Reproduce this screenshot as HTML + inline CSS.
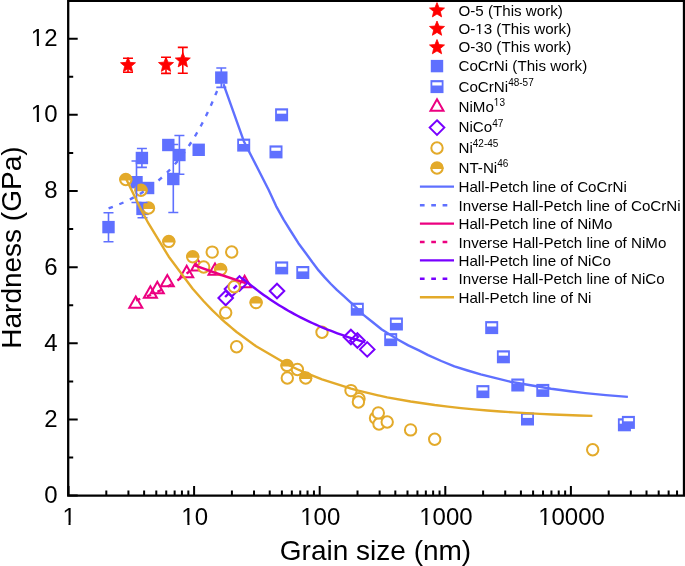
<!DOCTYPE html>
<html><head><meta charset="utf-8"><style>
html,body{margin:0;padding:0;background:#fff;}
svg{display:block;will-change:transform;}
text{font-family:"Liberation Sans",sans-serif;fill:#000;}
</style></head><body>
<svg width="685" height="566" viewBox="0 0 685 566">
<rect width="685" height="566" fill="#fff"/>
<path d="M128.00,58.20V72.20M123.00,58.20H133.00M123.00,72.20H133.00" stroke="#FF0000" stroke-width="1.6" fill="none"/>
<polygon points="128.00,57.30 130.06,62.37 135.51,62.76 131.33,66.28 132.64,71.59 128.00,68.70 123.36,71.59 124.67,66.28 120.49,62.76 125.94,62.37" fill="#FF0000" stroke="#FF0000" stroke-width="0.8" stroke-linejoin="round"/>
<path d="M166.00,57.30V73.40M161.00,57.30H171.00M161.00,73.40H171.00" stroke="#FF0000" stroke-width="1.6" fill="none"/>
<polygon points="166.00,57.10 168.06,62.17 173.51,62.56 169.33,66.08 170.64,71.39 166.00,68.50 161.36,71.39 162.67,66.08 158.49,62.56 163.94,62.17" fill="#FF0000" stroke="#FF0000" stroke-width="0.8" stroke-linejoin="round"/>
<path d="M182.80,47.40V73.20M177.80,47.40H187.80M177.80,73.20H187.80" stroke="#FF0000" stroke-width="1.6" fill="none"/>
<polygon points="182.80,52.60 184.86,57.67 190.31,58.06 186.13,61.58 187.44,66.89 182.80,64.00 178.16,66.89 179.47,61.58 175.29,58.06 180.74,57.67" fill="#FF0000" stroke="#FF0000" stroke-width="0.8" stroke-linejoin="round"/>
<rect x="102.30" y="220.90" width="12.4" height="12.4" fill="#5F70FF"/>
<rect x="135.70" y="151.80" width="12.4" height="12.4" fill="#5F70FF"/>
<rect x="130.30" y="176.00" width="12.4" height="12.4" fill="#5F70FF"/>
<rect x="141.90" y="181.80" width="12.4" height="12.4" fill="#5F70FF"/>
<rect x="136.30" y="202.70" width="12.4" height="12.4" fill="#5F70FF"/>
<rect x="173.20" y="148.80" width="12.4" height="12.4" fill="#5F70FF"/>
<rect x="167.10" y="172.80" width="12.4" height="12.4" fill="#5F70FF"/>
<rect x="215.10" y="71.40" width="12.4" height="12.4" fill="#5F70FF"/>
<g>
<rect x="237.20" y="138.60" width="13.0" height="13.0" fill="#5F70FF"/>
<rect x="239.00" y="140.80" width="9.40" height="3.2" fill="#fff"/>
<rect x="275.10" y="108.30" width="13.0" height="13.0" fill="#5F70FF"/>
<rect x="276.90" y="110.50" width="9.40" height="3.2" fill="#fff"/>
<rect x="269.50" y="145.40" width="13.0" height="13.0" fill="#5F70FF"/>
<rect x="271.30" y="147.60" width="9.40" height="3.2" fill="#fff"/>
<rect x="275.20" y="261.40" width="13.0" height="13.0" fill="#5F70FF"/>
<rect x="277.00" y="263.60" width="9.40" height="3.2" fill="#fff"/>
<rect x="296.30" y="266.00" width="13.0" height="13.0" fill="#5F70FF"/>
<rect x="298.10" y="268.20" width="9.40" height="3.2" fill="#fff"/>
<rect x="350.80" y="302.70" width="13.0" height="13.0" fill="#5F70FF"/>
<rect x="352.60" y="304.90" width="9.40" height="3.2" fill="#fff"/>
<rect x="389.90" y="317.50" width="13.0" height="13.0" fill="#5F70FF"/>
<rect x="391.70" y="319.70" width="9.40" height="3.2" fill="#fff"/>
<rect x="384.20" y="333.10" width="13.0" height="13.0" fill="#5F70FF"/>
<rect x="386.00" y="335.30" width="9.40" height="3.2" fill="#fff"/>
<rect x="485.20" y="321.10" width="13.0" height="13.0" fill="#5F70FF"/>
<rect x="487.00" y="323.30" width="9.40" height="3.2" fill="#fff"/>
<rect x="496.90" y="350.30" width="13.0" height="13.0" fill="#5F70FF"/>
<rect x="498.70" y="352.50" width="9.40" height="3.2" fill="#fff"/>
<rect x="476.40" y="385.10" width="13.0" height="13.0" fill="#5F70FF"/>
<rect x="478.20" y="387.30" width="9.40" height="3.2" fill="#fff"/>
<rect x="511.30" y="378.50" width="13.0" height="13.0" fill="#5F70FF"/>
<rect x="513.10" y="380.70" width="9.40" height="3.2" fill="#fff"/>
<rect x="536.30" y="383.90" width="13.0" height="13.0" fill="#5F70FF"/>
<rect x="538.10" y="386.10" width="9.40" height="3.2" fill="#fff"/>
<rect x="521.00" y="412.50" width="13.0" height="13.0" fill="#5F70FF"/>
<rect x="522.80" y="414.70" width="9.40" height="3.2" fill="#fff"/>
<rect x="617.90" y="418.30" width="13.0" height="13.0" fill="#5F70FF"/>
<rect x="619.70" y="420.50" width="9.40" height="3.2" fill="#fff"/>
<rect x="621.90" y="415.90" width="13.0" height="13.0" fill="#5F70FF"/>
<rect x="623.70" y="418.10" width="9.40" height="3.2" fill="#fff"/>
</g>
<polygon points="135.80,296.47 142.30,307.73 129.30,307.73" fill="none" stroke="#EC0080" stroke-width="2"/>
<polygon points="150.40,286.37 156.90,297.63 143.90,297.63" fill="none" stroke="#EC0080" stroke-width="2"/>
<polygon points="157.30,281.87 163.80,293.13 150.80,293.13" fill="none" stroke="#EC0080" stroke-width="2"/>
<polygon points="167.30,275.07 173.80,286.33 160.80,286.33" fill="none" stroke="#EC0080" stroke-width="2"/>
<polygon points="186.70,265.87 193.20,277.13 180.20,277.13" fill="none" stroke="#EC0080" stroke-width="2"/>
<polygon points="197.70,259.17 204.20,270.43 191.20,270.43" fill="none" stroke="#EC0080" stroke-width="2"/>
<polygon points="215.00,263.47 221.50,274.73 208.50,274.73" fill="none" stroke="#EC0080" stroke-width="2"/>
<polygon points="244.60,275.87 251.10,287.13 238.10,287.13" fill="none" stroke="#EC0080" stroke-width="2"/>
<polygon points="350.90,329.70 358.20,337.00 350.90,344.30 343.60,337.00" fill="none" stroke="#7800FF" stroke-width="2"/>
<polygon points="357.40,333.20 364.70,340.50 357.40,347.80 350.10,340.50" fill="none" stroke="#7800FF" stroke-width="2"/>
<polygon points="367.20,342.10 374.50,349.40 367.20,356.70 359.90,349.40" fill="none" stroke="#7800FF" stroke-width="2"/>
<polygon points="239.50,276.20 246.80,283.50 239.50,290.80 232.20,283.50" fill="none" stroke="#7800FF" stroke-width="2"/>
<polygon points="232.00,281.70 239.30,289.00 232.00,296.30 224.70,289.00" fill="none" stroke="#7800FF" stroke-width="2"/>
<polygon points="225.70,290.70 233.00,298.00 225.70,305.30 218.40,298.00" fill="none" stroke="#7800FF" stroke-width="2"/>
<polygon points="277.00,283.70 284.30,291.00 277.00,298.30 269.70,291.00" fill="none" stroke="#7800FF" stroke-width="2"/>
<circle cx="212.20" cy="252.10" r="5.7" fill="#fff" stroke="#E3AA2A" stroke-width="2"/>
<circle cx="231.70" cy="252.00" r="5.7" fill="#fff" stroke="#E3AA2A" stroke-width="2"/>
<circle cx="203.70" cy="267.00" r="5.7" fill="#fff" stroke="#E3AA2A" stroke-width="2"/>
<circle cx="234.20" cy="286.80" r="5.7" fill="#fff" stroke="#E3AA2A" stroke-width="2"/>
<circle cx="225.70" cy="312.70" r="5.7" fill="#fff" stroke="#E3AA2A" stroke-width="2"/>
<circle cx="236.60" cy="346.80" r="5.7" fill="#fff" stroke="#E3AA2A" stroke-width="2"/>
<circle cx="322.00" cy="332.20" r="5.7" fill="#fff" stroke="#E3AA2A" stroke-width="2"/>
<circle cx="297.40" cy="369.50" r="5.7" fill="#fff" stroke="#E3AA2A" stroke-width="2"/>
<circle cx="287.30" cy="378.00" r="5.7" fill="#fff" stroke="#E3AA2A" stroke-width="2"/>
<circle cx="359.00" cy="398.70" r="5.7" fill="#fff" stroke="#E3AA2A" stroke-width="2"/>
<circle cx="351.00" cy="390.60" r="5.7" fill="#fff" stroke="#E3AA2A" stroke-width="2"/>
<circle cx="358.40" cy="402.00" r="5.7" fill="#fff" stroke="#E3AA2A" stroke-width="2"/>
<circle cx="375.50" cy="418.00" r="5.7" fill="#fff" stroke="#E3AA2A" stroke-width="2"/>
<circle cx="379.00" cy="424.00" r="5.7" fill="#fff" stroke="#E3AA2A" stroke-width="2"/>
<circle cx="378.30" cy="412.90" r="5.7" fill="#fff" stroke="#E3AA2A" stroke-width="2"/>
<circle cx="387.20" cy="422.00" r="5.7" fill="#fff" stroke="#E3AA2A" stroke-width="2"/>
<circle cx="410.60" cy="429.90" r="5.7" fill="#fff" stroke="#E3AA2A" stroke-width="2"/>
<circle cx="434.70" cy="439.20" r="5.7" fill="#fff" stroke="#E3AA2A" stroke-width="2"/>
<circle cx="592.70" cy="449.80" r="5.7" fill="#fff" stroke="#E3AA2A" stroke-width="2"/>
<circle cx="125.80" cy="179.50" r="5.7" fill="#fff" stroke="#E3AA2A" stroke-width="2"/>
<path d="M119.10,180.50 A6.7,6.7 0 0 1 132.50,180.50 Z" fill="#E3AA2A"/>
<circle cx="141.00" cy="190.20" r="5.7" fill="#fff" stroke="#E3AA2A" stroke-width="2"/>
<path d="M134.30,191.20 A6.7,6.7 0 0 1 147.70,191.20 Z" fill="#E3AA2A"/>
<circle cx="148.50" cy="208.00" r="5.7" fill="#fff" stroke="#E3AA2A" stroke-width="2"/>
<path d="M141.80,209.00 A6.7,6.7 0 0 1 155.20,209.00 Z" fill="#E3AA2A"/>
<circle cx="168.80" cy="241.40" r="5.7" fill="#fff" stroke="#E3AA2A" stroke-width="2"/>
<path d="M162.10,242.40 A6.7,6.7 0 0 1 175.50,242.40 Z" fill="#E3AA2A"/>
<circle cx="192.70" cy="256.70" r="5.7" fill="#fff" stroke="#E3AA2A" stroke-width="2"/>
<path d="M186.00,257.70 A6.7,6.7 0 0 1 199.40,257.70 Z" fill="#E3AA2A"/>
<circle cx="220.70" cy="269.50" r="5.7" fill="#fff" stroke="#E3AA2A" stroke-width="2"/>
<path d="M214.00,270.50 A6.7,6.7 0 0 1 227.40,270.50 Z" fill="#E3AA2A"/>
<circle cx="256.10" cy="302.60" r="5.7" fill="#fff" stroke="#E3AA2A" stroke-width="2"/>
<path d="M249.40,303.60 A6.7,6.7 0 0 1 262.80,303.60 Z" fill="#E3AA2A"/>
<circle cx="287.00" cy="365.40" r="5.7" fill="#fff" stroke="#E3AA2A" stroke-width="2"/>
<path d="M280.30,366.40 A6.7,6.7 0 0 1 293.70,366.40 Z" fill="#E3AA2A"/>
<circle cx="305.70" cy="378.00" r="5.7" fill="#fff" stroke="#E3AA2A" stroke-width="2"/>
<path d="M299.00,379.00 A6.7,6.7 0 0 1 312.40,379.00 Z" fill="#E3AA2A"/>
<path d="M108.50,212.80V241.70M103.50,212.80H113.50M103.50,241.70H113.50" stroke="#5F70FF" stroke-width="1.6" fill="none"/>
<path d="M141.90,148.50V167.40M136.90,148.50H146.90M136.90,167.40H146.90" stroke="#5F70FF" stroke-width="1.6" fill="none"/>
<path d="M136.50,161.00V202.50M131.50,161.00H141.50M131.50,202.50H141.50" stroke="#5F70FF" stroke-width="1.6" fill="none"/>
<path d="M142.50,202.50V217.80M137.50,202.50H147.50M137.50,217.80H147.50" stroke="#5F70FF" stroke-width="1.6" fill="none"/>
<path d="M179.40,135.50V174.30M174.40,135.50H184.40M174.40,174.30H184.40" stroke="#5F70FF" stroke-width="1.6" fill="none"/>
<path d="M173.30,144.50V212.50M168.30,144.50H178.30M168.30,212.50H178.30" stroke="#5F70FF" stroke-width="1.6" fill="none"/>
<path d="M221.30,68.00V87.40M216.30,68.00H226.30M216.30,87.40H226.30" stroke="#5F70FF" stroke-width="1.6" fill="none"/>
<rect x="162.10" y="138.80" width="12.4" height="12.4" fill="#5F70FF"/>
<rect x="192.50" y="143.60" width="12.4" height="12.4" fill="#5F70FF"/>
<path d="M223.50,84.20 L243.80,141.20 L268.70,190.00 L276.10,206.10 L283.60,219.70 L291.00,231.50 L298.40,243.20 L306.20,253.70 L312.40,262.30 L318.60,270.40 L324.70,277.40 L330.90,284.00 L337.10,290.20 L343.30,295.70 L349.50,301.30 L353.20,304.60 L363.80,315.10 L371.20,321.00 L381.80,329.50 L397.70,339.50 L408.30,345.40 L418.90,350.40 L428.10,355.10 L441.30,361.00 L454.40,366.30 L467.60,370.50 L480.70,374.40 L493.80,377.70 L510.20,381.70 L530.60,385.30 L551.10,388.70 L570.00,391.30 L585.40,393.10 L605.90,395.10 L627.90,396.90" fill="none" stroke="#5F70FF" stroke-width="2.4" stroke-linejoin="round"/>
<path d="M108.60,208.36 L116.73,205.36 L123.81,202.37 L130.07,199.37 L135.69,196.38 L140.78,193.39 L145.43,190.39 L149.73,187.40 L153.70,184.40 L157.41,181.41 L160.88,178.41 L164.14,175.42 L167.22,172.43 L170.14,169.43 L172.90,166.44 L175.54,163.44 L178.05,160.45 L180.45,157.46 L182.75,154.46 L184.96,151.47 L187.08,148.47 L189.12,145.48 L191.09,142.48 L192.99,139.49 L194.82,136.50 L196.60,133.50 L198.32,130.51 L199.99,127.51 L201.60,124.52 L203.17,121.53 L204.70,118.53 L206.19,115.54 L207.63,112.54 L209.04,109.55 L210.42,106.56 L211.75,103.56 L213.06,100.57 L214.34,97.57 L215.59,94.58 L216.81,91.58 L218.00,88.59" fill="none" stroke="#5F70FF" stroke-width="2.4" stroke-linejoin="round" stroke-dasharray="4.5 7"/>
<path d="M194.60,265.30 L220.00,274.50 L245.70,283.20" fill="none" stroke="#EC0080" stroke-width="2.4" stroke-linejoin="round"/>
<path d="M136.00,300.26 L138.78,299.35 L141.42,298.44 L143.94,297.53 L146.34,296.62 L148.65,295.71 L150.86,294.80 L152.99,293.89 L155.03,292.98 L157.01,292.07 L158.91,291.16 L160.75,290.25 L162.53,289.34 L164.25,288.43 L165.92,287.52 L167.54,286.61 L169.12,285.70 L170.65,284.79 L172.13,283.88 L173.58,282.97 L174.99,282.06 L176.37,281.15 L177.71,280.24 L179.02,279.33 L180.30,278.42 L181.55,277.51 L182.77,276.60 L183.96,275.69 L185.13,274.78 L186.28,273.88 L187.40,272.97 L188.50,272.06 L189.57,271.15 L190.63,270.24 L191.67,269.33 L192.68,268.42 L193.68,267.51 L194.66,266.60 L195.62,265.69 L196.57,264.78 L197.50,263.87" fill="none" stroke="#EC0080" stroke-width="2.4" stroke-linejoin="round" stroke-dasharray="4.5 7"/>
<path d="M242.20,277.92 L245.27,280.56 L248.34,283.13 L251.41,285.62 L254.48,288.05 L257.55,290.41 L260.62,292.70 L263.69,294.93 L266.76,297.10 L269.83,299.21 L272.90,301.26 L275.97,303.25 L279.04,305.19 L282.11,307.07 L285.18,308.90 L288.25,310.68 L291.32,312.41 L294.39,314.10 L297.46,315.73 L300.53,317.32 L303.60,318.87 L306.67,320.37 L309.74,321.84 L312.81,323.26 L315.88,324.64 L318.95,325.98 L322.02,327.29 L325.09,328.56 L328.16,329.79 L331.23,330.99 L334.30,332.16 L337.37,333.30 L340.44,334.40 L343.51,335.47 L346.58,336.52 L349.65,337.53 L352.72,338.52 L355.79,339.47 L358.86,340.41 L361.93,341.31 L365.00,342.19" fill="none" stroke="#7800FF" stroke-width="2.4" stroke-linejoin="round"/>
<path d="M225.10,297.00 L236.80,285.40" fill="none" stroke="#7800FF" stroke-width="2.4" stroke-linejoin="round" stroke-dasharray="4.5 7.45"/>
<path d="M126.40,179.49 L141.00,209.53 L148.50,223.46 L168.80,256.71 L192.70,288.69 L203.70,301.21 L212.20,310.06 L220.70,318.25 L225.70,322.77 L231.70,327.94 L234.20,330.00 L236.60,331.95 L256.10,346.24 L287.00,364.25 L297.40,369.25 L305.70,372.92 L322.00,379.35 L351.10,388.70 L358.40,390.67 L376.00,394.93 L378.00,395.38 L379.50,395.70 L387.20,397.31 L410.60,401.55 L434.70,405.06 L447.84,406.67 L460.98,408.10 L474.12,409.37 L487.27,410.49 L500.41,411.49 L513.55,412.37 L526.69,413.15 L539.83,413.85 L552.98,414.46 L566.12,415.01 L579.26,415.49 L592.40,415.92" fill="none" stroke="#E3AA2A" stroke-width="2.4" stroke-linejoin="round"/>
<path d="M68.2,0.9 H684 V495.6 H68.2 Z" fill="none" stroke="#000" stroke-width="2.3"/>
<path d="M68.2,495.60H77.7M68.2,457.53H73.2M68.2,419.45H77.7M68.2,381.38H73.2M68.2,343.30H77.7M68.2,305.23H73.2M68.2,267.15H77.7M68.2,229.07H73.2M68.2,191.00H77.7M68.2,152.93H73.2M68.2,114.85H77.7M68.2,76.77H73.2M68.2,38.70H77.7M68.2,0.62H73.2M68.50,495.6V486.1M106.31,495.6V490.6M128.43,495.6V490.6M144.12,495.6V490.6M156.29,495.6V490.6M166.24,495.6V490.6M174.64,495.6V490.6M181.93,495.6V490.6M188.35,495.6V490.6M194.10,495.6V486.1M231.91,495.6V490.6M254.03,495.6V490.6M269.72,495.6V490.6M281.89,495.6V490.6M291.84,495.6V490.6M300.24,495.6V490.6M307.53,495.6V490.6M313.95,495.6V490.6M319.70,495.6V486.1M357.51,495.6V490.6M379.63,495.6V490.6M395.32,495.6V490.6M407.49,495.6V490.6M417.44,495.6V490.6M425.84,495.6V490.6M433.13,495.6V490.6M439.55,495.6V490.6M445.30,495.6V486.1M483.11,495.6V490.6M505.23,495.6V490.6M520.92,495.6V490.6M533.09,495.6V490.6M543.04,495.6V490.6M551.44,495.6V490.6M558.73,495.6V490.6M565.15,495.6V490.6M570.90,495.6V486.1M608.71,495.6V490.6M630.83,495.6V490.6M646.52,495.6V490.6M658.69,495.6V490.6M668.64,495.6V490.6M677.04,495.6V490.6" stroke="#000" stroke-width="2" fill="none"/>
<polygon points="437.00,2.60 439.06,7.67 444.51,8.06 440.33,11.58 441.64,16.89 437.00,14.00 432.36,16.89 433.67,11.58 429.49,8.06 434.94,7.67" fill="#FF0000" stroke="#FF0000" stroke-width="0.8" stroke-linejoin="round"/>
<polygon points="437.00,21.00 439.06,26.07 444.51,26.46 440.33,29.98 441.64,35.29 437.00,32.40 432.36,35.29 433.67,29.98 429.49,26.46 434.94,26.07" fill="#FF0000" stroke="#FF0000" stroke-width="0.8" stroke-linejoin="round"/>
<polygon points="437.00,39.50 439.06,44.57 444.51,44.96 440.33,48.48 441.64,53.79 437.00,50.90 432.36,53.79 433.67,48.48 429.49,44.96 434.94,44.57" fill="#FF0000" stroke="#FF0000" stroke-width="0.8" stroke-linejoin="round"/>
<rect x="430.80" y="59.90" width="12.4" height="12.4" fill="#5F70FF"/>
<rect x="430.50" y="80.10" width="13.0" height="13.0" fill="#5F70FF"/>
<rect x="432.30" y="82.30" width="9.40" height="3.2" fill="#fff"/>
<polygon points="437.00,99.37 443.50,110.63 430.50,110.63" fill="none" stroke="#EC0080" stroke-width="2"/>
<polygon points="437.00,120.30 444.30,127.60 437.00,134.90 429.70,127.60" fill="none" stroke="#7800FF" stroke-width="2"/>
<circle cx="437.00" cy="148.00" r="5.7" fill="#fff" stroke="#E3AA2A" stroke-width="2"/>
<circle cx="437.00" cy="168.00" r="5.7" fill="#fff" stroke="#E3AA2A" stroke-width="2"/>
<path d="M430.30,169.00 A6.7,6.7 0 0 1 443.70,169.00 Z" fill="#E3AA2A"/>
<path d="M419.9,186.60H454" stroke="#5F70FF" stroke-width="2.4"/>
<path d="M419.9,205.20H447.4" stroke="#5F70FF" stroke-width="2.4" stroke-dasharray="4.7 6.65"/>
<path d="M419.9,223.60H454" stroke="#EC0080" stroke-width="2.4"/>
<path d="M419.9,242.00H447.4" stroke="#EC0080" stroke-width="2.4" stroke-dasharray="4.7 6.65"/>
<path d="M419.9,260.40H454" stroke="#7800FF" stroke-width="2.4"/>
<path d="M419.9,278.80H447.4" stroke="#7800FF" stroke-width="2.4" stroke-dasharray="4.7 6.65"/>
<path d="M419.9,297.20H454" stroke="#E3AA2A" stroke-width="2.4"/>
<text x="458.5" y="15.5" font-size="15.15">O-5 (This work)</text>
<text x="458.5" y="33.9" font-size="15.15">O-13 (This work)</text>
<text x="458.5" y="52.4" font-size="15.15">O-30 (This work)</text>
<text x="458.5" y="70.6" font-size="15.15">CoCrNi (This work)</text>
<text x="458.5" y="91.5" font-size="15.15">CoCrNi<tspan font-size="10" dy="-5.6">48-57</tspan></text>
<text x="458.5" y="111.7" font-size="15.15">NiMo<tspan font-size="10" dy="-5.6">13</tspan></text>
<text x="458.5" y="132.4" font-size="15.15">NiCo<tspan font-size="10" dy="-5.6">47</tspan></text>
<text x="458.5" y="152.7" font-size="15.15">Ni<tspan font-size="10" dy="-5.6">42-45</tspan></text>
<text x="458.5" y="173" font-size="15.15">NT-Ni<tspan font-size="10" dy="-5.6">46</tspan></text>
<text x="458.5" y="192.2" font-size="15.15">Hall-Petch line of CoCrNi</text>
<text x="458.5" y="210.8" font-size="15.15">Inverse Hall-Petch line of CoCrNi</text>
<text x="458.5" y="229.2" font-size="15.15">Hall-Petch line of NiMo</text>
<text x="458.5" y="247.6" font-size="15.15">Inverse Hall-Petch line of NiMo</text>
<text x="458.5" y="266" font-size="15.15">Hall-Petch line of NiCo</text>
<text x="458.5" y="284.4" font-size="15.15">Inverse Hall-Petch line of NiCo</text>
<text x="458.5" y="302.8" font-size="15.15">Hall-Petch line of Ni</text>
<g font-size="24"><text x="57.5" y="503.00" text-anchor="end">0</text><text x="57.5" y="426.85" text-anchor="end">2</text><text x="57.5" y="350.70" text-anchor="end">4</text><text x="57.5" y="274.55" text-anchor="end">6</text><text x="57.5" y="198.40" text-anchor="end">8</text><text x="57.5" y="122.25" text-anchor="end">10</text><text x="57.5" y="46.10" text-anchor="end">12</text><text x="69.10" y="524.9" text-anchor="middle">1</text><text x="194.70" y="524.9" text-anchor="middle">10</text><text x="320.30" y="524.9" text-anchor="middle">100</text><text x="445.90" y="524.9" text-anchor="middle">1000</text><text x="571.50" y="524.9" text-anchor="middle">10000</text></g>
<g fill="#fff"><rect x="31.76" y="120.00" width="5.08" height="2.75"/><rect x="38.96" y="120.00" width="4.80" height="2.75"/><rect x="31.76" y="43.85" width="5.08" height="2.75"/><rect x="38.96" y="43.85" width="4.80" height="2.75"/><rect x="63.39" y="522.65" width="5.08" height="2.75"/><rect x="70.59" y="522.65" width="4.80" height="2.75"/><rect x="182.31" y="522.65" width="5.08" height="2.75"/><rect x="189.51" y="522.65" width="4.80" height="2.75"/><rect x="301.24" y="522.65" width="5.08" height="2.75"/><rect x="308.44" y="522.65" width="4.80" height="2.75"/><rect x="420.16" y="522.65" width="5.08" height="2.75"/><rect x="427.36" y="522.65" width="4.80" height="2.75"/><rect x="539.09" y="522.65" width="5.08" height="2.75"/><rect x="546.29" y="522.65" width="4.80" height="2.75"/><rect x="475.94" y="32.31" width="3.20" height="2.09"/><rect x="480.48" y="32.31" width="3.03" height="2.09"/><rect x="494.25" y="104.90" width="2.11" height="1.70"/><rect x="497.25" y="104.90" width="2.00" height="1.70"/></g>
<text x="375.5" y="559.5" font-size="28" text-anchor="middle">Grain size (nm)</text>
<text transform="translate(21,247.6) rotate(-90)" font-size="28" text-anchor="middle">Hardness (GPa)</text>
</svg>
</body></html>
